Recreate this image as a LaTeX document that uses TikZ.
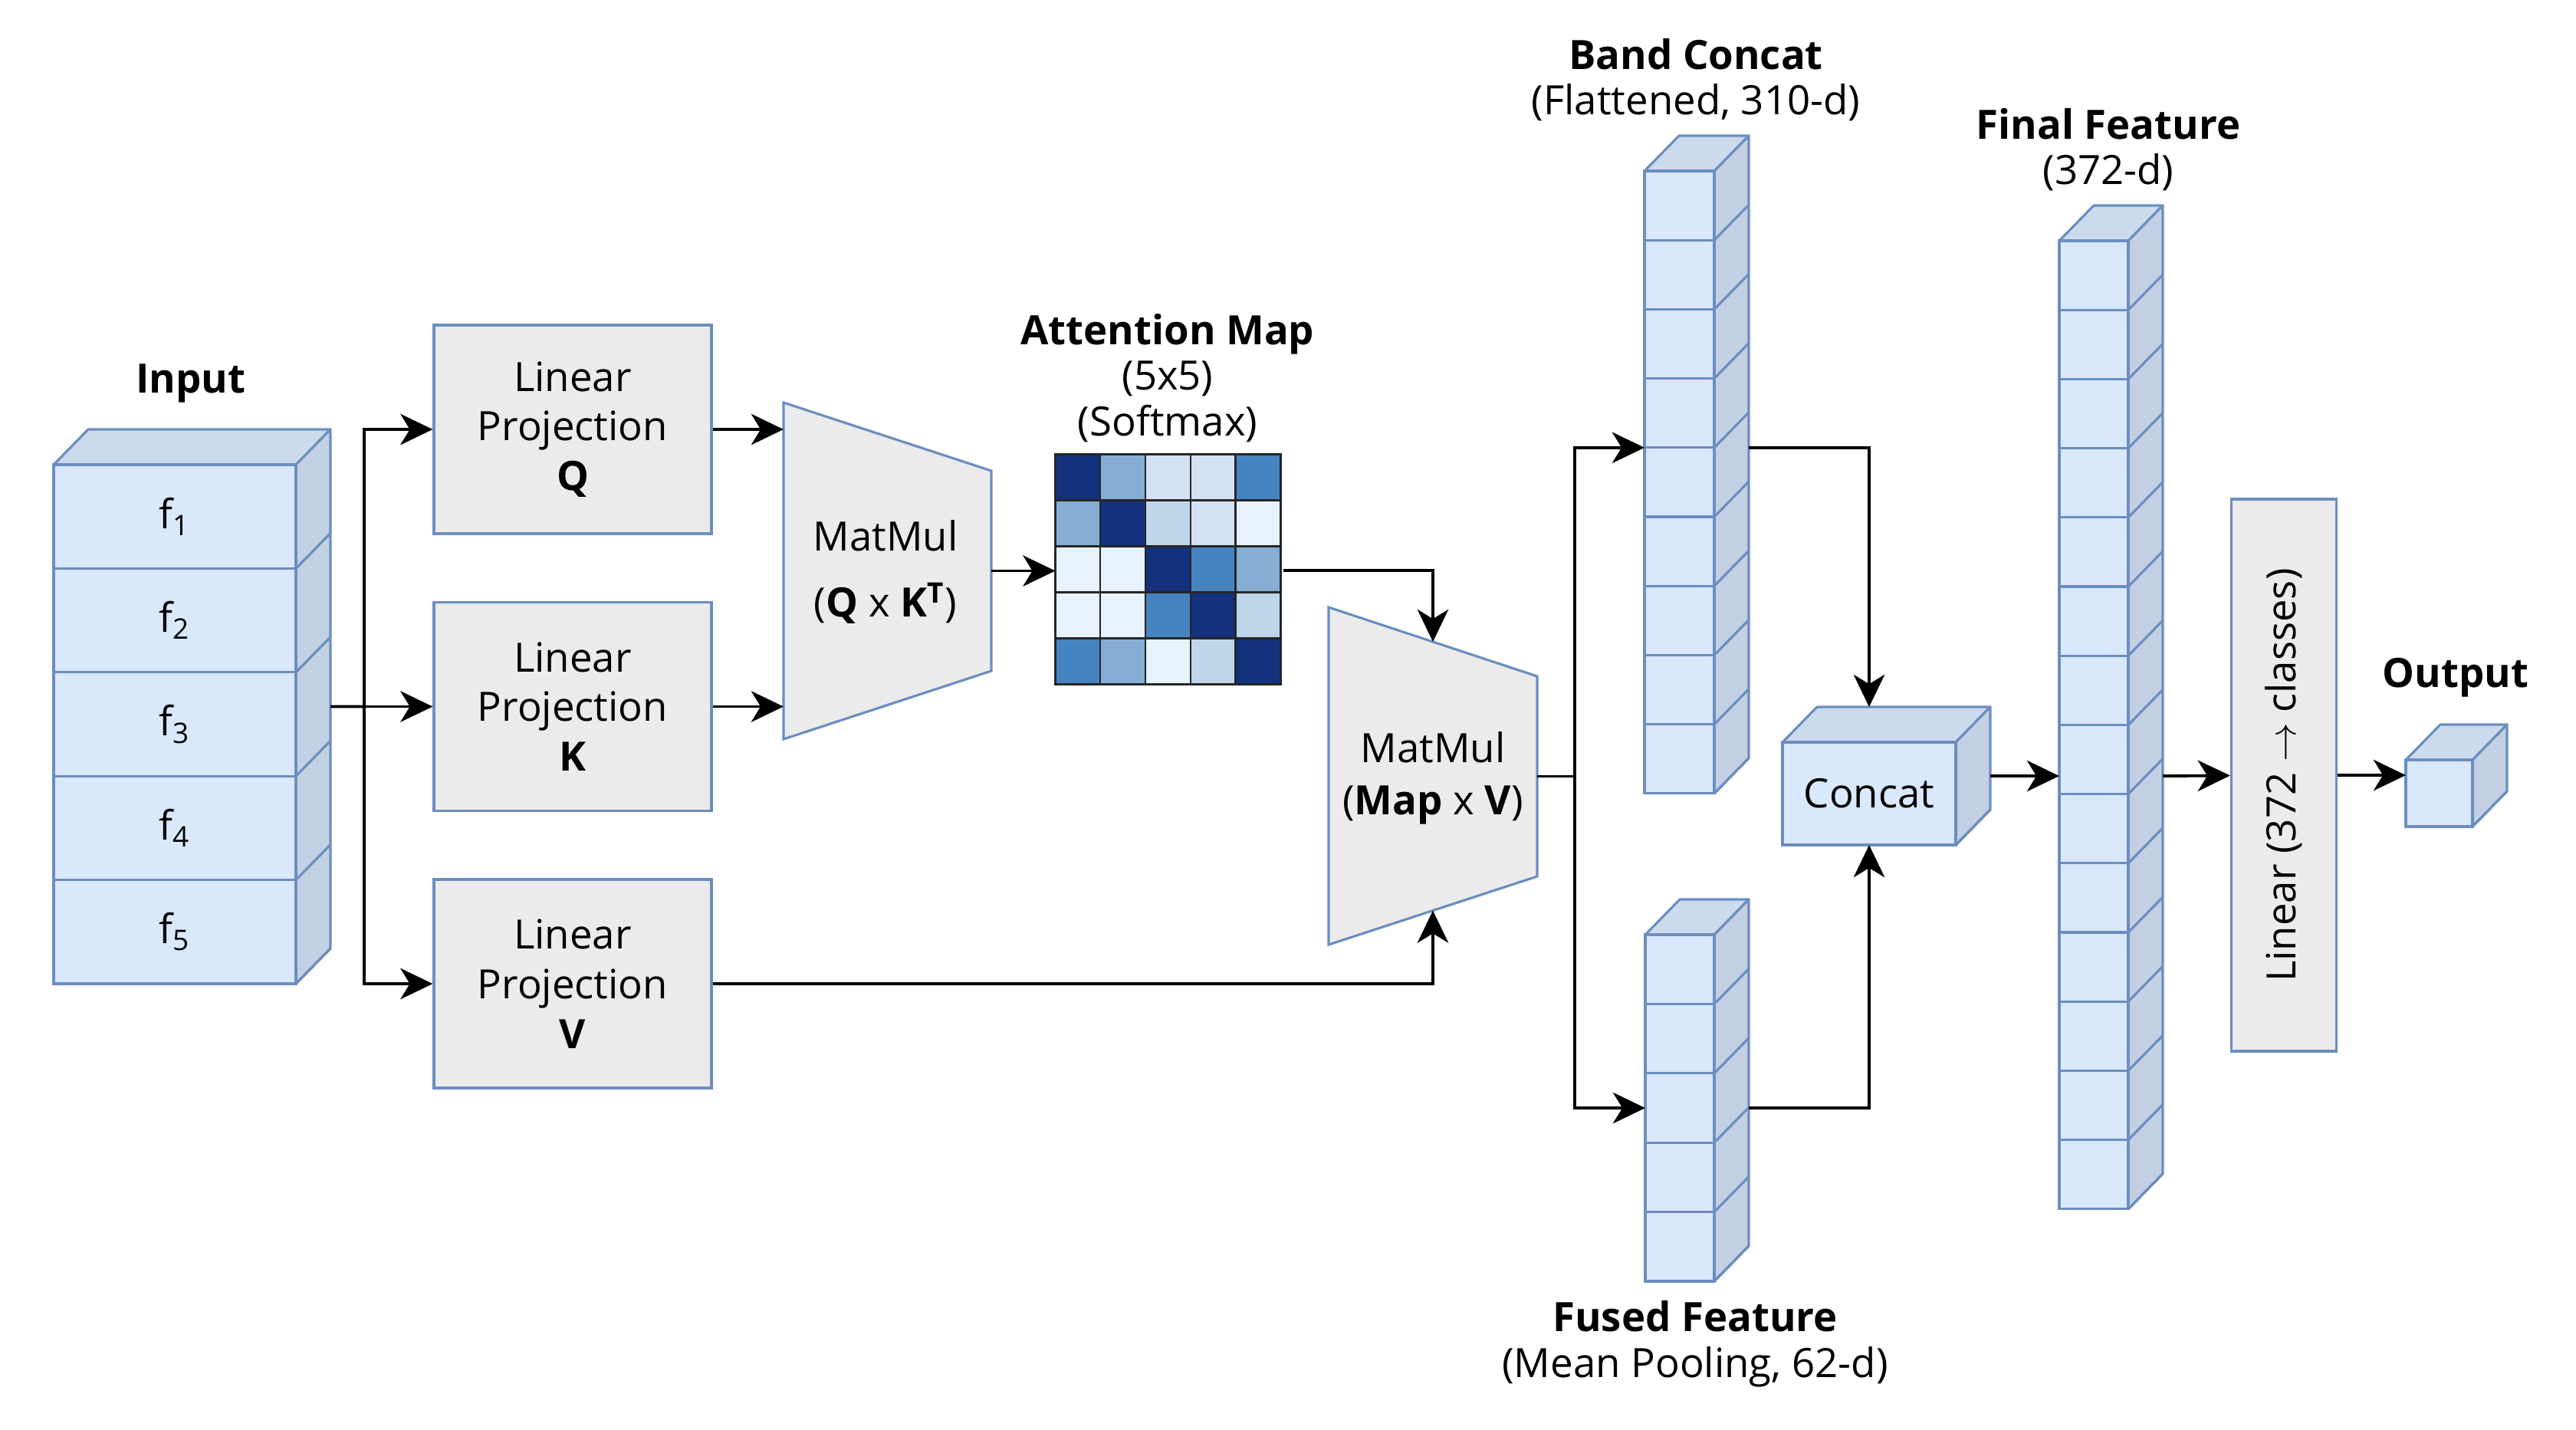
\documentclass[tikz,border=0pt]{standalone}
\usepackage{fontspec}
\setmainfont{Open Sans}
\usepackage{tikz}
\usetikzlibrary{arrows.meta, calc, positioning}

\definecolor{blueline}{HTML}{6C8EBF}
\definecolor{boxgray}{HTML}{EBEBEB}
\definecolor{cubefront}{HTML}{DAE8FC}
\definecolor{cubetop}{HTML}{CCDAEE}
\definecolor{cubeside}{HTML}{C3CFE3}
\definecolor{heat0}{HTML}{E7F2FB}
\definecolor{heat1}{HTML}{D4E1F3}
\definecolor{heat2}{HTML}{BFD6EA}
\definecolor{heat3}{HTML}{86AED4}
\definecolor{heat4}{HTML}{4584C1}
\definecolor{heat5}{HTML}{14317D}

\newcommand{\bodyfont}{\fontsize{15}{18.4}\selectfont}
\newcommand{\lblfont}{\fontsize{15}{17}\selectfont}
\newcommand{\depx}{4.5}
\newcommand{\depy}{4.6}

\tikzset{
    proj/.style={draw=blueline, fill=boxgray, line width=0.9pt, minimum width=36.2mm, minimum height=27.2mm, inner sep=2pt, align=center, font=\bodyfont},
    trap/.style={draw=blueline, fill=boxgray, line width=0.9pt},
    lbl/.style={align=center, inner sep=1pt, font=\lblfont},
    frontface/.style={draw=blueline, fill=cubefront, line width=0.9pt},
    topface/.style={draw=blueline, fill=cubetop, line width=0.9pt, line join=round},
    sideface/.style={draw=blueline, fill=cubeside, line width=0.9pt, line join=round},
    cubeedge/.style={draw=blueline, line width=0.9pt},
    cell/.style={draw=black!85, line width=0.7pt},
    wire/.style={line width=1.1pt, draw=black},
    arrow/.style={wire, -{Stealth[length=12pt, width=11.5pt, inset=3.5pt]}}
}

% stack of 3d cells: name, x, y (top of front), width, cell height, cells
\newcommand{\cubestack}[6]{%
    \begin{scope}[shift={(#2,#3)}]
        \draw[topface] (0,0) -- (\depx,-\depy) -- ({#4+\depx},-\depy) -- (#4,0) -- cycle;
        \draw[sideface] (#4,0) -- ({#4+\depx},-\depy) -- ({#4+\depx},{#6*#5-\depy}) -- (#4,{#6*#5}) -- cycle;
        \foreach \i in {1,...,#6} {
            \draw[frontface] (0,{(\i-1)*#5}) rectangle (#4,{\i*#5});
            \draw[cubeedge] (#4,{\i*#5}) -- ++(\depx,-\depy);
            \coordinate (#1-\i) at (0,{\i*#5});
            \coordinate (#1-c\i) at ({#4/2},{(\i-0.5)*#5});
        }
        \coordinate (#1-w) at (0,{#6*#5/2});
        \coordinate (#1-e) at ({#4+\depx},{#6*#5/2-\depy/2});
        \coordinate (#1-n) at ({#4/2},-\depy);
        \coordinate (#1-s) at ({#4/2},{#6*#5});
    \end{scope}}

\begin{document}
\begin{tikzpicture}[x=1mm, y=-1mm, >=Stealth, line width=0.9pt]
    \useasboundingbox (0,0) rectangle (336,186.4);

    % -----------------------------------------------------------------
    % INPUT
    % -----------------------------------------------------------------
    \cubestack{input}{7.0}{60.6}{31.6}{13.54}{5}
    \foreach \i in {1,...,5}
        \node[lbl, font=\bodyfont] (f\i) at (input-c\i) {f\textsubscript{\i}};
    \node[lbl] (inputlbl) at (24.9,50.0) {\textbf{Input}};

    % -----------------------------------------------------------------
    % LINEAR PROJECTIONS
    % -----------------------------------------------------------------
    \node[proj] (projQ) at (74.7,56.0) {Linear\\Projection\\\textbf{Q}};
    \node[proj] (projK) at (74.7,92.15) {Linear\\Projection\\\textbf{K}};
    \node[proj] (projV) at (74.7,128.3) {Linear\\Projection\\\textbf{V}};

    \coordinate (split1) at (47.5,92.15);
    \draw[wire] (input-e) -- (split1);
    \draw[arrow] (split1) |- (projQ);
    \draw[arrow] (split1) -- (projK);
    \draw[arrow] (split1) |- (projV);

    % -----------------------------------------------------------------
    % MATMUL Q x K
    % -----------------------------------------------------------------
    \coordinate (mm1-tl) at (102.2,52.5);
    \coordinate (mm1-tr) at (129.3,61.4);
    \coordinate (mm1-br) at (129.3,87.5);
    \coordinate (mm1-bl) at (102.2,96.4);
    \coordinate (mm1-r) at ($(mm1-tr)!0.5!(mm1-br)$);
    \draw[trap] (mm1-tl) -- (mm1-tr) -- (mm1-br) -- (mm1-bl) -- cycle;
    \node[lbl, font=\bodyfont] (mm1) at (115.5,74.6) {MatMul\\[6pt](\textbf{Q} x \textbf{K}\textsuperscript{\textbf{T}})};
    \draw[arrow] (projQ) -- (projQ -| mm1-tl);
    \draw[arrow] (projK) -- (projK -| mm1-tl);

    % -----------------------------------------------------------------
    % ATTENTION MAP
    % -----------------------------------------------------------------
    \node[minimum width=29.4mm, minimum height=30mm, inner sep=0pt] (attn) at (152.5,74.4) {};
    \begin{scope}[shift={(attn.north west)}]
        \foreach \row [count=\r] in {{5,3,1,1,4},{3,5,2,1,0},{0,0,5,4,3},{0,0,4,5,2},{4,3,0,2,5}} {
            \foreach \v [count=\c] in \row {
                \draw[cell, fill=heat\v] ({(\c-1)*5.88},{(\r-1)*6}) rectangle ++(5.88,6);
            }
        }
    \end{scope}
    \node[lbl] (attnlbl) at (152.3,49.3) {\textbf{Attention Map}\\(5x5)\\(Softmax)};
    \draw[arrow] (mm1-r) -- (mm1-r -| attn.west);

    % -----------------------------------------------------------------
    % MATMUL MAP x V
    % -----------------------------------------------------------------
    \coordinate (mm2-tl) at (173.3,79.2);
    \coordinate (mm2-tr) at (200.5,88.2);
    \coordinate (mm2-br) at (200.5,114.3);
    \coordinate (mm2-bl) at (173.3,123.2);
    \coordinate (mm2-t) at ($(mm2-tl)!0.5!(mm2-tr)$);
    \coordinate (mm2-b) at ($(mm2-bl)!0.5!(mm2-br)$);
    \coordinate (mm2-r) at ($(mm2-tr)!0.5!(mm2-br)$);
    \draw[trap] (mm2-tl) -- (mm2-tr) -- (mm2-br) -- (mm2-bl) -- cycle;
    \node[lbl, font=\bodyfont] (mm2) at (186.9,101.5) {MatMul\\[1pt](\textbf{Map} x \textbf{V})};
    \draw[arrow] (attn.east) -| (mm2-t);
    \draw[arrow] (projV) -| (mm2-b);

    % -----------------------------------------------------------------
    % FEATURES
    % -----------------------------------------------------------------
    \cubestack{band}{214.5}{22.3}{9.1}{9.02}{9}
    \cubestack{fused}{214.6}{121.9}{9.0}{9.04}{5}
    \cubestack{concat}{232.5}{96.8}{22.6}{13.4}{1}
    \cubestack{final}{268.6}{31.4}{9.0}{9.02}{14}
    \cubestack{output}{313.8}{99.1}{8.7}{8.7}{1}
    \node[lbl, font=\bodyfont] (concattxt) at (concat-c1) {Concat};

    \node[lbl] (bandlbl) at (221.2,10.4) {\textbf{Band Concat}\\(Flattened, 310-d)};
    \node[lbl] (fusedlbl) at (221.1,175.3) {\textbf{Fused Feature}\\(Mean Pooling, 62-d)};
    \node[lbl] (finallbl) at (275.0,19.5) {\textbf{Final Feature}\\(372-d)};
    \node[lbl] (outlbl) at (320.3,88.4) {\textbf{Output}};

    \coordinate (split2) at (205.4,101.25);
    \draw[wire] (mm2-r) -- (split2);
    \draw[arrow] (split2) |- (band-4);
    \draw[arrow] (split2) |- (fused-w);
    \draw[arrow] (band-4 -| band-e) -| (concat-n);
    \draw[arrow] (fused-w -| fused-e) -| (concat-s);
    \draw[arrow] (concat-e) -- (concat-e -| final-w);

    % -----------------------------------------------------------------
    % CLASSIFIER
    % -----------------------------------------------------------------
    \node[proj, rotate=90, minimum width=72mm, minimum height=13.7mm] (linear) at (297.9,101.1) {Linear (372 $\rightarrow$ classes)};
    \draw[arrow] (concat-e -| final-e) -- (linear);
    \draw[arrow] (linear) -- (linear -| output-w);

\end{tikzpicture}
\end{document}
